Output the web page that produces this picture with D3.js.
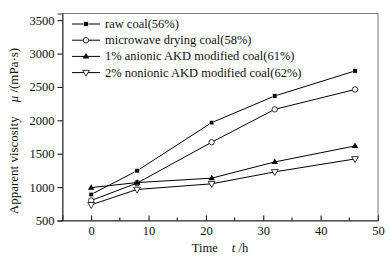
<!DOCTYPE html>
<html>
<head>
<meta charset="utf-8">
<script src="https://cdn.jsdelivr.net/npm/d3@7"></script>
<style>
body { margin: 0; background: #fff; }
text { font-family: "Liberation Serif", "DejaVu Serif", serif; }
</style>
</head>
<body>
<svg id="chart"></svg>
<script>
var w = 390, h = 261;
var margin = {left: 62.5, right: 12, top: 13.5, bottom: 40.5};

var times = [0, 8, 21, 32, 46];
var seriesNames = ["raw coal(56%)", "microwave drying coal(58%)", "1% anionic AKD modified coal(61%)", "2% nonionic AKD modified coal(62%)"];
var rawCoal = [890, 1245, 1965, 2365, 2740];
var microwave = [800, 1060, 1672, 2165, 2462];
var anionic = [993, 1068, 1134, 1377, 1617];
var nonionic = [735, 965, 1049, 1228, 1422];
var markers = ["square", "circle", "triangle", "down"];
var xTicks = [0, 10, 20, 30, 40, 50];
var yTicks = [500, 1000, 1500, 2000, 2500, 3000, 3500];

var allSeries = [rawCoal, microwave, anionic, nonionic];

var svg = d3.select("#chart").attr("width", w).attr("height", h);

var x = d3.scaleLinear().domain([-5, 50]).range([margin.left, w - margin.right]);
var y = d3.scaleLinear().domain([500, 3600]).range([h - margin.bottom, margin.top]);

// frame
svg.append("rect")
  .attr("x", margin.left).attr("y", margin.top)
  .attr("width", x(50) - margin.left).attr("height", y(500) - margin.top)
  .attr("fill", "none").attr("stroke", "#777").attr("stroke-width", 1);

// x axis, ticks pointing in
var xAxis = svg.append("g")
  .attr("transform", "translate(0," + y(500) + ")")
  .call(d3.axisBottom(x).tickValues(xTicks).tickSize(-5).tickPadding(6).tickFormat(d3.format("d")));
xAxis.selectAll(".tick").filter(function(d) { return d === 50; }).select("line").remove();
xAxis.selectAll("g.minor").data([5, 15, 25, 35, 45]).enter().append("line")
  .attr("x1", function(d) { return x(d); }).attr("x2", function(d) { return x(d); })
  .attr("y1", 0).attr("y2", -3).attr("stroke", "#000");

// y axis, ticks pointing out
var yAxis = svg.append("g")
  .attr("transform", "translate(" + margin.left + ",0)")
  .call(d3.axisLeft(y).tickValues(yTicks).tickSize(5).tickPadding(3).tickFormat(d3.format("d")));

svg.selectAll(".domain").attr("stroke", "#333");
svg.selectAll(".tick text").attr("font-size", 12.5).attr("font-family", "Liberation Serif").attr("fill", "#111");

// axis titles
svg.append("text")
  .attr("x", 220).attr("y", 252)
  .attr("text-anchor", "middle").attr("font-size", 12.5).attr("fill", "#111")
  .html('Time<tspan dx="14" font-style="italic">t</tspan><tspan> /h</tspan>');

svg.append("text")
  .attr("transform", "translate(18," + 131 + ") rotate(-90)")
  .attr("text-anchor", "middle").attr("font-size", 13).attr("fill", "#111")
  .html('Apparent viscosity<tspan dx="14" font-style="italic">μ</tspan><tspan> /(mPa·s)</tspan>');

function drawMarker(g, type, cx, cy) {
  if (type === "square") {
    g.append("rect").attr("x", cx - 2.2).attr("y", cy - 2.2).attr("width", 4.4).attr("height", 4.4)
      .attr("fill", "#000").attr("stroke", "#fff").attr("stroke-width", 0.5);
  } else if (type === "circle") {
    g.append("circle").attr("cx", cx).attr("cy", cy).attr("r", 2.7)
      .attr("fill", "#fff").attr("stroke", "#000").attr("stroke-width", 0.8);
  } else if (type === "triangle") {
    g.append("path").attr("d", d3.symbol().type(d3.symbolTriangle).size(18)())
      .attr("transform", "translate(" + cx + "," + (cy + 0.3) + ")").attr("fill", "#000");
  } else {
    g.append("path").attr("d", d3.symbol().type(d3.symbolTriangle).size(20)())
      .attr("transform", "translate(" + cx + "," + (cy - 0.3) + ") rotate(180)")
      .attr("fill", "#fff").attr("stroke", "#000").attr("stroke-width", 0.8);
  }
}

var line = d3.line()
  .x(function(d, i) { return x(times[i]); })
  .y(function(d) { return y(d); });

allSeries.forEach(function(s, k) {
  var g = svg.append("g");
  g.append("path").attr("d", line(s)).attr("fill", "none").attr("stroke", "#000").attr("stroke-width", 1);
  s.forEach(function(v, i) { drawMarker(g, markers[k], x(times[i]), y(v)); });
});

// legend
var legend = svg.append("g");
seriesNames.forEach(function(name, k) {
  var ly = 24 + k * 16.2;
  legend.append("line").attr("x1", 72).attr("x2", 100).attr("y1", ly).attr("y2", ly)
    .attr("stroke", "#000").attr("stroke-width", 1);
  drawMarker(legend, markers[k], 86, ly);
  legend.append("text").attr("x", 105).attr("y", ly + 4)
    .attr("font-size", 12.5).attr("fill", "#111").text(name);
});
</script>
</body>
</html>
